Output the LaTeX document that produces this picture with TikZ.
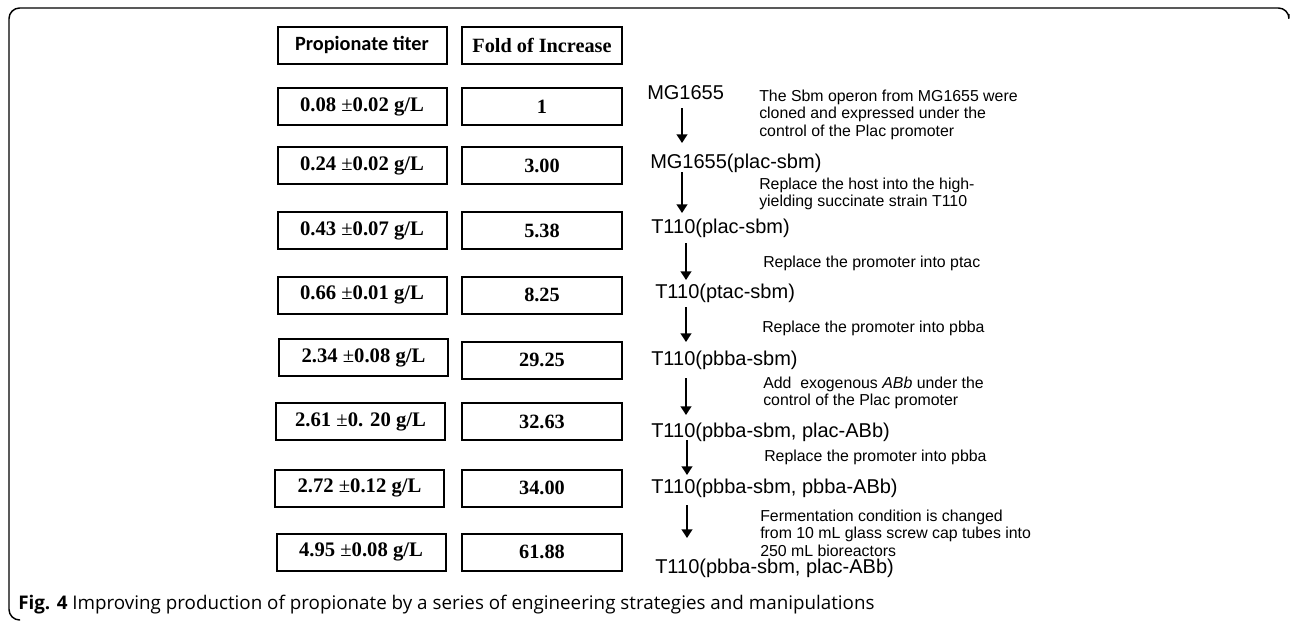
\documentclass[tikz,border=0pt]{standalone}
\usepackage{fontspec}
\setmainfont{Liberation Serif}
\setsansfont{Liberation Sans}
\newfontfamily\hdfont{Carlito}
\newfontfamily\capfont{Open Sans}
\usetikzlibrary{arrows.meta}

\newcommand{\pmv}{{\mdseries ±}}

\tikzset{
    valbox/.style={draw, line width=1.5pt, inner sep=0pt,
        minimum height=27.75pt, minimum width=126.75pt,
        font=\bfseries\fontsize{15.5}{18}\selectfont},
    foldbox/.style={valbox, minimum width=120pt,
        font=\bfseries\fontsize{15.2}{18}\selectfont},
    strain/.style={anchor=west, inner sep=0pt,
        font=\sffamily\fontsize{15}{17}\selectfont},
    note/.style={anchor=west, inner sep=0pt, align=left,
        font=\sffamily\fontsize{11.9}{13.1}\selectfont},
    flow/.style={line width=2.2pt, -{Triangle[length=6.5pt,width=8pt]}}
}

\begin{document}
\begin{tikzpicture}[x=0.75pt, y=-0.75pt]
    \useasboundingbox (0,0) rectangle (1290,622);
    \draw[line width=1.1pt, rounded corners=8] (1289,14) -- (1289,8)
        -- (9,8) -- (9,620) -- (20,620);

    \node[valbox, font=\hdfont\bfseries\fontsize{15.2}{18}\selectfont]
        (h1) at (362,45) {Propionate titer};
    \node[foldbox] (h2) at (542,45) {Fold of Increase};

    \node[valbox] (v1) at (362,106.5) {0.08 \pmv0.02 g/L};
    \node[foldbox] (f1) at (542,106.5) {1};
    \node[valbox] (v2) at (362,165.5) {0.24 \pmv0.02 g/L};
    \node[foldbox] (f2) at (542,165.5) {3.00};
    \node[valbox] (v3) at (362,230.5) {0.43 \pmv0.07 g/L};
    \node[foldbox] (f3) at (542,230.5) {5.38};
    \node[valbox] (v4) at (362,295) {0.66 \pmv0.01 g/L};
    \node[foldbox] (f4) at (542,295) {8.25};
    \node[valbox] (v5) at (363.5,357.5) {2.34 \pmv0.08 g/L};
    \node[foldbox] (f5) at (542,360) {29.25};
    \node[valbox] (v6) at (360.5,421.5) {2.61 \pmv0. 20 g/L};
    \node[foldbox] (f6) at (542,421.5) {32.63};
    \node[valbox] (v7) at (359.5,488) {2.72 \pmv0.12 g/L};
    \node[foldbox] (f7) at (542,488) {34.00};
    \node[valbox] (v8) at (361,552) {4.95 \pmv0.08 g/L};
    \node[foldbox] (f8) at (542,552) {61.88};

    \node[strain] (s1) at (647,93) {MG1655};
    \node[strain] (s2) at (650,163) {MG1655(plac-sbm)};
    \node[strain] (s3) at (651,228) {T110(plac-sbm)};
    \node[strain] (s4) at (655,293) {T110(ptac-sbm)};
    \node[strain] (s5) at (651,360) {T110(pbba-sbm)};
    \node[strain] (s6) at (651,432) {T110(pbba-sbm, plac-ABb)};
    \node[strain] (s7) at (651,488) {T110(pbba-sbm, pbba-ABb)};
    \node[strain] (s8) at (655,568) {T110(pbba-sbm, plac-ABb)};

    \coordinate (a1) at (682,108);
    \coordinate (a2) at (682,172);
    \coordinate (a3) at (686,243);
    \coordinate (a4) at (686,307);
    \coordinate (a5) at (686,378);
    \coordinate (a6) at (687,440);
    \coordinate (a7) at (687,505);
    \coordinate (b1) at (682,143);
    \coordinate (b2) at (682,213);
    \coordinate (b3) at (686,280);
    \coordinate (b4) at (686,342);
    \coordinate (b5) at (686,415);
    \coordinate (b6) at (687,475);
    \coordinate (b7) at (687,538);
    \draw[flow] (a1) -- (b1);
    \draw[flow] (a2) -- (b2);
    \draw[flow] (a3) -- (b3);
    \draw[flow] (a4) -- (b4);
    \draw[flow] (a5) -- (b5);
    \draw[flow] (a6) -- (b6);
    \draw[flow] (a7) -- (b7);

    \node[note] (n1) at (759,114.5) {The Sbm operon from MG1655 were\\
        cloned and expressed under the\\control of the Plac promoter};
    \node[note] (n2) at (759,194) {Replace the host into the high-\\
        yielding succinate strain T110};
    \node[note] (n3) at (763,263) {Replace the promoter into ptac};
    \node[note] (n4) at (762,328) {Replace the promoter into pbba};
    \node[note] (n5) at (763,393) {Add\ \ exogenous \textit{ABb} under the\\
        control of the Plac promoter};
    \node[note] (n6) at (764,457) {Replace the promoter into pbba};
    \node[note] (n7) at (760,533) {Fermentation condition is changed\\
        from 10 mL glass screw cap tubes into\\250 mL bioreactors};

    \node[anchor=west, inner sep=0pt, font=\capfont\fontsize{14.1}{17}\selectfont]
        (cap) at (18,605) {\textbf{Fig. 4} Improving production of propionate
        by a series of engineering strategies and manipulations};
\end{tikzpicture}
\end{document}
